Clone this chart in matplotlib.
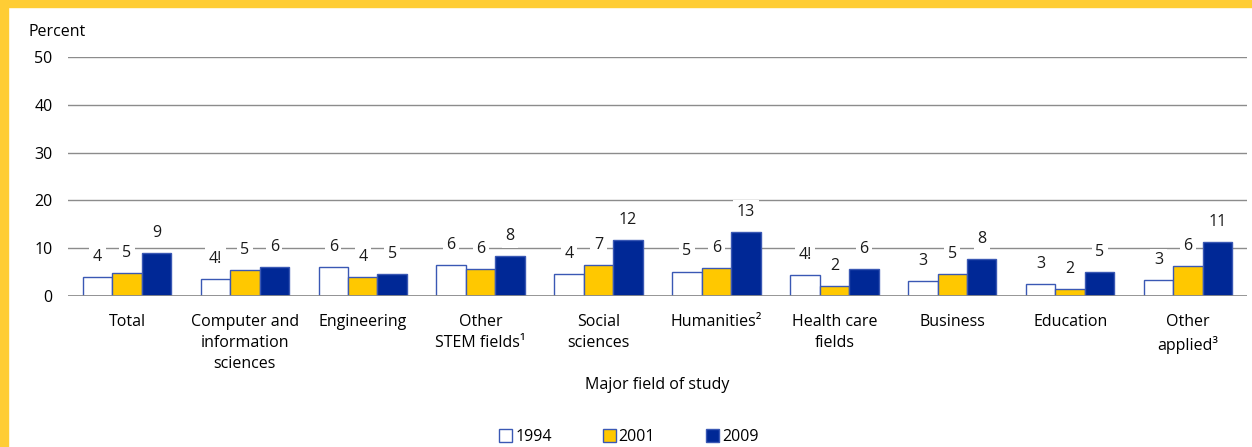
import matplotlib.pyplot as plt
import matplotlib.patches as mpatches
import numpy as np

plt.rcParams['font.family'] = ['Open Sans', 'DejaVu Sans']

# datos
categorias = ['Total', 'Computer and\ninformation\nsciences', 'Engineering',
              'Other\nSTEM fields\u00b9', 'Social\nsciences', 'Humanities\u00b2',
              'Health care\nfields', 'Business', 'Education', 'Other\napplied\u00b3']
anios = ['1994', '2001', '2009']
v1994 = [4.0, 3.6, 6.0, 6.4, 4.5, 5.1, 4.4, 3.1, 2.5, 3.3]
v2001 = [4.75, 5.4, 4.0, 5.6, 6.5, 5.8, 2.0, 4.5, 1.5, 6.3]
v2009 = [8.9, 6.1, 4.5, 8.3, 11.7, 13.4, 5.6, 7.7, 5.0, 11.2]
et1994 = ['4', '4!', '6', '6', '4', '5', '4!', '3', '3', '3']
et2001 = ['5', '5', '4', '6', '7', '6', '2', '5', '2', '6']
et2009 = ['9', '6', '5', '8', '12', '13', '6', '8', '5', '11']

colores = ['white', '#FFC800', '#002896']
borde = '#3A58B4'

fig = plt.figure(figsize=(12.52, 4.47), dpi=100)
# marco amarillo
fig.patches.append(mpatches.Rectangle((0, 0), 8/1252, 1, transform=fig.transFigure,
                                      color='#FFCD34', zorder=0))
fig.patches.append(mpatches.Rectangle((0, 1-7/447), 1, 7/447, transform=fig.transFigure,
                                      color='#FFCD34', zorder=0))

ax = fig.add_axes([68/1252, 151/447, 1179/1252, 239/447])
x = np.arange(len(categorias))
w = 0.25
series = [v1994, v2001, v2009]
etiquetas = [et1994, et2001, et2009]
for i in range(3):
    xs = x + (i-1)*w
    ax.bar(xs, series[i], w, color=colores[i], edgecolor=borde, linewidth=1,
           zorder=3, label=anios[i])
    for xi, v, t in zip(xs, series[i], etiquetas[i]):
        ax.annotate(t, (xi, v), xytext=(0, 14.5), textcoords='offset points',
                    ha='center', va='center', fontsize=11.5, color='#1a1a1a',
                    zorder=4,
                    bbox=dict(fc='white', ec='none', pad=2.5))

ax.set_xlim(-0.5, len(categorias)-0.5)
ax.set_ylim(0, 50)
ax.set_yticks([0, 10, 20, 30, 40, 50])
for yv in [10, 20, 30, 40, 50]:
    ax.axhline(yv, color='#8c8c8c', lw=1, zorder=1)
ax.axhline(0, color='#8c8c8c', lw=2, zorder=5)
for s in ax.spines.values():
    s.set_visible(False)
ax.tick_params(axis='y', length=0, labelsize=11.5, pad=11)
ax.tick_params(axis='x', length=0, labelsize=11.5, pad=13)
ax.set_xticks(x)
ax.set_xticklabels(categorias, va='top', linespacing=1.4)

fig.text(28/1252, 1-32/447, 'Percent', fontsize=11.5, va='center', ha='left')
fig.text(0.5*(68+1247)/1252 + 0.0, 1-385/447, 'Major field of study', fontsize=11.5,
         ha='center', va='center')

handles = [mpatches.Patch(fc=colores[i], ec=borde, lw=1) for i in range(3)]
fig.legend(handles, anios, loc='center', bbox_to_anchor=(629/1252, 1-437/447),
           ncol=3, frameon=False, fontsize=11.5, handlelength=0.8,
           handleheight=0.8, handletextpad=0.2, columnspacing=3.2)

fig.savefig('out.png', dpi=100)
